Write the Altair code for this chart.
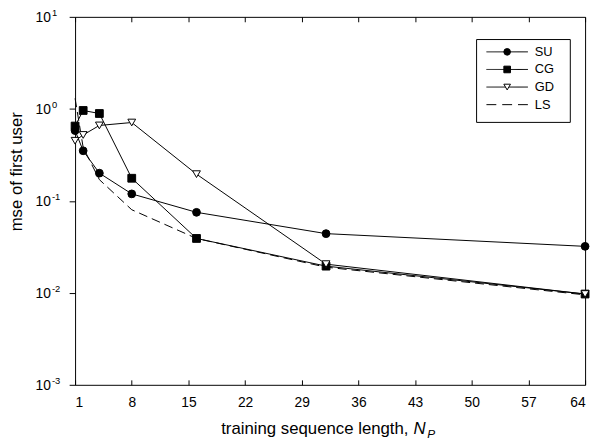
import altair as alt
import pandas as pd

# ---- data ----
x_vals = [1, 2, 4, 8, 16, 32, 64]
su = [0.58, 0.35, 0.20, 0.119, 0.075, 0.044, 0.032]
cg = [0.65, 0.96, 0.89, 0.176, 0.039, 0.0195, 0.0097]
gd = [0.45, 0.52, 0.66, 0.71, 0.195, 0.0205, 0.0097]
ls = [1.3, 0.38, 0.17, 0.08, 0.039, 0.019, 0.0095]
series_names = ["SU", "CG", "GD", "LS"]
marker_series = ["SU", "CG", "GD"]
marker_shapes = ["circle", "square", "triangle-down"]
marker_fills = ["black", "black", "white"]
x_ticks = [1, 8, 15, 22, 29, 36, 43, 50, 57, 64]
y_ticks = [10, 1, 0.1, 0.01, 0.001]
y_exps = ["1", "0", "-1", "-2", "-3"]

rows = []
for name, vals in zip(series_names, [su, cg, gd, ls]):
    for xv, yv in zip(x_vals, vals):
        rows.append({"N": xv, "mse": yv, "series": name})
df = pd.DataFrame(rows)
ydf = pd.DataFrame({"v": y_ticks, "base": ["10"] * len(y_ticks), "exp": y_exps})
legdf = pd.DataFrame({"series": series_names})
one = pd.DataFrame({"a": [0]})

W, H = 517, 373
FONT = "Liberation Sans"
TFS = 17

xscale = alt.Scale(domain=[1, 64], nice=False, zero=False)
yscale = alt.Scale(type="log", domain=[0.001, 10], nice=False)
shape_scale = alt.Scale(domain=marker_series, range=marker_shapes)
fill_scale = alt.Scale(domain=marker_series, range=marker_fills)
dash_scale = alt.Scale(domain=series_names, range=[[1, 0], [1, 0], [1, 0], [10, 6]])

solid = alt.Chart(df).transform_filter("datum.series != 'LS'").mark_line(
    color="black", strokeWidth=1
).encode(
    x=alt.X("N:Q", scale=xscale, axis=alt.Axis(
        orient="bottom", values=x_ticks, ticks=False, domain=False, grid=False,
        labelFont=FONT, labelFontSize=14, labelColor="black", labelPadding=11, title=None)),
    y=alt.Y("mse:Q", scale=yscale, axis=alt.Axis(
        orient="left", values=y_ticks, labels=False, domain=False, grid=False,
        tickSize=6, tickColor="black", tickWidth=1, title=None)),
    detail="series:N",
)

dashed = alt.Chart(df).transform_filter("datum.series == 'LS'").mark_line(
    color="black", strokeWidth=1, strokeDash=[9, 5]
).encode(
    x=alt.X("N:Q", scale=xscale, axis=alt.Axis(
        orient="bottom", offset=-H, values=x_ticks, labels=False, domain=False,
        grid=False, tickSize=5, tickColor="black", title=None)),
    y=alt.Y("mse:Q", scale=yscale, axis=None),
)

pts = alt.Chart(df).transform_filter("datum.series != 'LS'").mark_point(
    filled=True, size=62, stroke="black", strokeWidth=1, opacity=1
).encode(
    x=alt.X("N:Q", scale=xscale, axis=alt.Axis(
        orient="top", offset=-H, values=x_ticks, labels=False, domain=False,
        grid=False, tickSize=5, tickColor="black", title=None)),
    y=alt.Y("mse:Q", scale=yscale, axis=None),
    shape=alt.Shape("series:N", scale=shape_scale, legend=None),
    fill=alt.Fill("series:N", scale=fill_scale, legend=None),
)

# ---- legend box (rows placed by a point scale over the series names) ----
leg_y = alt.Y("series:N", scale=alt.Scale(type="point", domain=series_names,
                                          range=[35.5, 89], padding=0), axis=None)
leg_box = alt.Chart(one).mark_rect(fill="white", stroke="black", strokeWidth=1).encode(
    x=alt.value(407), x2=alt.value(502), y=alt.value(23), y2=alt.value(107))
leg_line = alt.Chart(legdf).mark_rule(color="black", strokeWidth=1).encode(
    x=alt.value(417), x2=alt.value(459), y=leg_y,
    strokeDash=alt.StrokeDash("series:N", scale=dash_scale, legend=None))
leg_pts = alt.Chart(legdf).transform_filter("datum.series != 'LS'").mark_point(
    filled=True, size=45, stroke="black", strokeWidth=1, opacity=1
).encode(
    x=alt.value(438), y=leg_y,
    shape=alt.Shape("series:N", scale=shape_scale, legend=None),
    fill=alt.Fill("series:N", scale=fill_scale, legend=None),
)
leg_txt = alt.Chart(legdf).mark_text(align="left", baseline="middle", font=FONT,
                                     fontSize=13, color="black").encode(
    x=alt.value(466), y=leg_y, text="series:N")

# ---- y tick labels 10^k ----
ybase = alt.Chart(ydf).mark_text(align="left", baseline="middle", font=FONT,
                                 fontSize=14, color="black", dy=1).encode(
    x=alt.value(-40), y=alt.Y("v:Q", scale=yscale, axis=None), text="base:N")
yexp = alt.Chart(ydf).mark_text(align="left", baseline="middle", font=FONT,
                                fontSize=9.5, color="black", dy=-4).encode(
    x=alt.value(-23.5), y=alt.Y("v:Q", scale=yscale, axis=None), text="exp:N")

# ---- axis titles ----
ytitle = alt.Chart(one).mark_text(angle=270, align="center", baseline="middle",
                                  font=FONT, fontSize=TFS, color="black").encode(
    x=alt.value(-59), y=alt.value(157), text=alt.value("mse of first user"))
xt_main = alt.Chart(one).mark_text(align="right", baseline="alphabetic",
                                   font=FONT, fontSize=TFS, color="black").encode(
    x=alt.value(338), y=alt.value(423), text=alt.value("training sequence length,"))
xt_n = alt.Chart(one).mark_text(align="left", baseline="alphabetic", font=FONT,
                                fontSize=TFS, fontStyle="italic", color="black").encode(
    x=alt.value(343), y=alt.value(423), text=alt.value("N"))
xt_p = alt.Chart(one).mark_text(align="left", baseline="alphabetic", font=FONT,
                                fontSize=12, fontStyle="italic", color="black").encode(
    x=alt.value(357), y=alt.value(427), text=alt.value("P"))

chart = alt.layer(
    solid, dashed, pts, leg_box, leg_line, leg_pts, leg_txt,
    ybase, yexp, ytitle, xt_main, xt_n, xt_p
).resolve_scale(y="independent").resolve_axis(x="independent", y="independent").properties(
    width=W, height=H,
    autosize=alt.AutoSizeParams(type="none"),
    padding={"left": 68, "top": 6, "right": 7, "bottom": 55},
).configure_view(stroke="black", strokeWidth=1)

chart.save("out.html", embed_options={"renderer": "svg", "actions": False})
